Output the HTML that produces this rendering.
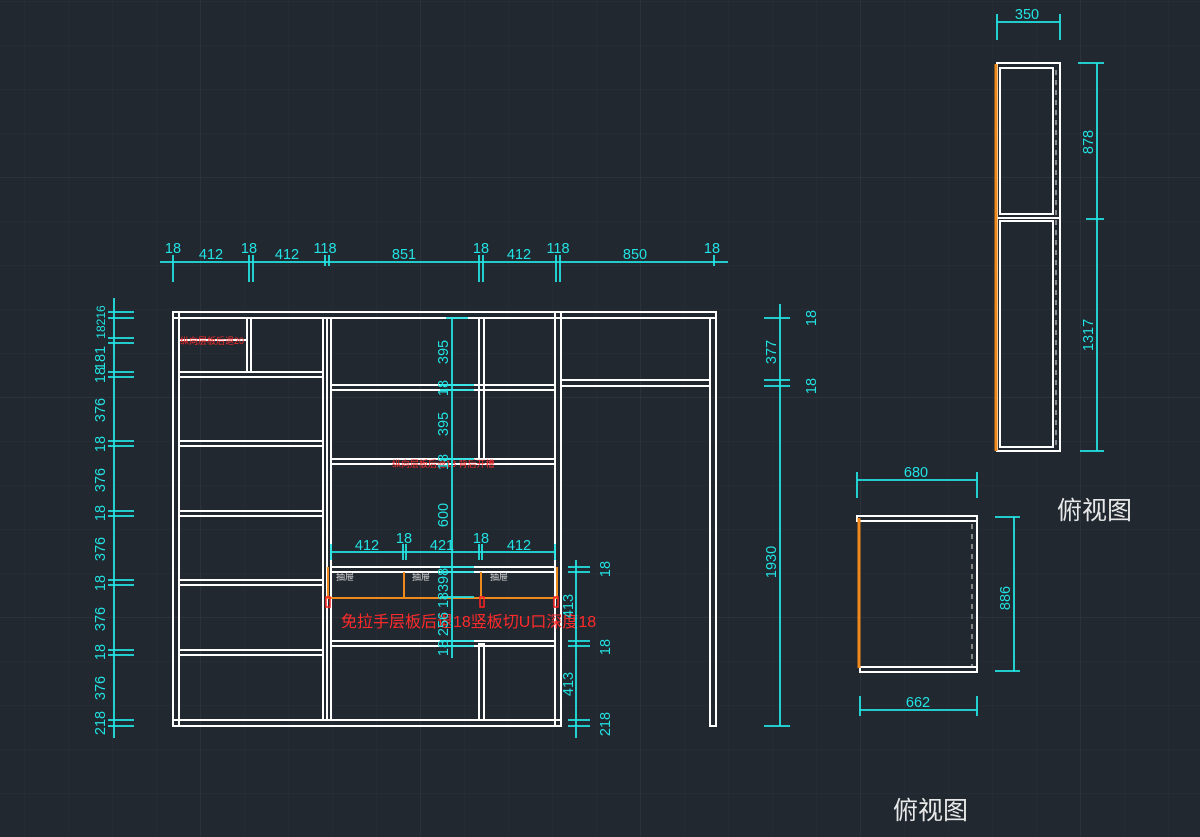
<!DOCTYPE html>
<html><head><meta charset="utf-8"><style>
html,body{margin:0;padding:0;background:#212830;}
svg{display:block}
text{font-family:"Liberation Sans","Noto Sans CJK SC",sans-serif;}
.c{fill:#22e3e3;font-size:14.5px;}
</style></head><body>
<svg width="1200" height="837" viewBox="0 0 1200 837" xmlns="http://www.w3.org/2000/svg">
<defs>
<pattern id="g" width="44" height="44" patternUnits="userSpaceOnUse" x="24" y="1">
<path d="M0 0H44M0 0V44" stroke="#2a313b" stroke-width="1" fill="none"/>
</pattern>
<pattern id="G" width="220" height="220" patternUnits="userSpaceOnUse" x="200" y="177">
<path d="M0 0H220M0 0V220" stroke="#353d48" stroke-width="1" fill="none"/>
</pattern>
</defs>
<rect width="1200" height="837" fill="#212830"/>
<rect width="1200" height="837" fill="url(#g)"/>
<rect width="1200" height="837" fill="url(#G)"/>

<!-- cabinet panels -->
<g fill="none" stroke="#ffffff" stroke-width="2">
<rect x="173" y="312" width="543" height="6"/>
<rect x="173" y="312" width="6" height="414"/>
<rect x="173" y="720" width="388" height="6"/>
<rect x="323" y="318" width="4" height="402"/>
<rect x="327" y="318" width="4" height="402"/>
<rect x="479" y="318" width="5" height="141"/>
<rect x="479" y="644" width="5" height="76"/>
<rect x="555" y="312" width="6" height="414"/>
<rect x="710" y="318" width="6" height="408"/>
<rect x="561" y="380" width="149" height="6"/>
<rect x="247" y="318" width="4" height="54"/>
<rect x="179" y="372" width="144" height="5"/>
<rect x="179" y="441" width="144" height="5"/>
<rect x="179" y="511" width="144" height="5"/>
<rect x="179" y="580" width="144" height="5"/>
<rect x="179" y="650" width="144" height="5"/>
<rect x="331" y="385" width="224" height="5"/>
<rect x="331" y="459" width="224" height="5"/>
<rect x="331" y="567" width="224" height="5"/>
<rect x="331" y="641" width="224" height="5"/>
<line x1="179" y1="340" x2="247" y2="340"/>
</g>
<!-- drawer orange -->
<g fill="none" stroke="#f08a1c" stroke-width="2">
<polyline points="328,567 328,598 557,598 557,567"/>
<line x1="404" y1="572" x2="404" y2="597"/>
<line x1="481" y1="572" x2="481" y2="597"/>
</g>
<g fill="none" stroke="#ff2020" stroke-width="1.5">
<rect x="326" y="597" width="4" height="10"/>
<rect x="480" y="597" width="4" height="10"/>
<rect x="554" y="597" width="4" height="10"/>
</g>
<g fill="#ddd" font-size="9"><text x="336" y="580">抽屉</text><text x="412" y="580">抽屉</text><text x="490" y="580">抽屉</text></g>
<text x="180" y="344" fill="#ff2a2a" font-size="9">纵向层板后退20</text>
<text x="392" y="467" fill="#ff2a2a" font-size="9">纵向层板后退18 背后开槽</text>
<text x="341" y="627" fill="#ff2a2a" font-size="16">免拉手层板后退18竖板切U口深度18</text>

<!-- dimension lines -->
<g stroke="#22e3e3" stroke-width="1.8" fill="none">
<line x1="160" y1="262" x2="728" y2="262"/>
<path d="M173 255V282M249 255V282M253 255V282M325 255V266M329 255V266M479 255V282M483 255V282M556 255V282M560 255V282M714 255V266"/>
<line x1="114" y1="298" x2="114" y2="738"/>
<path d="M108 312H134M108 318H134M108 338H134M108 343H134M108 372H134M108 377H134M108 441H134M108 446H134M108 511H134M108 516H134M108 580H134M108 585H134M108 650H134M108 655H134M108 720H134M108 726H134"/>
<line x1="780" y1="304" x2="780" y2="726"/>
<path d="M764 318H790M764 380H790M764 386H790M764 726H790"/>
<line x1="452" y1="318" x2="452" y2="658"/>
<path d="M446 318H468M440 385H474M440 390H474M440 459H474M440 567H474M440 572H474M440 597H474M440 641H474M440 646H474"/>
<line x1="331" y1="552" x2="555" y2="552"/>
<path d="M331 544V560M403 544V560M406 544V560M479 544V560M482 544V560M555 544V560"/>
<line x1="576" y1="560" x2="576" y2="738"/>
<path d="M568 567H590M568 572H590M568 641H590M568 646H590M568 720H590M568 726H590"/>
<line x1="997" y1="22" x2="1060" y2="22"/><path d="M997 14V40M1060 14V40"/>
<line x1="1097" y1="63" x2="1097" y2="451"/><path d="M1078 63H1104M1086 219H1104M1080 451H1104"/>
<line x1="857" y1="480" x2="977" y2="480"/><path d="M857 472V498M977 472V498"/>
<line x1="1014" y1="517" x2="1014" y2="671"/><path d="M995 517H1020M995 671H1020"/>
<line x1="860" y1="710" x2="977" y2="710"/><path d="M860 696V716M977 696V716"/>
</g>

<g class="c" text-anchor="middle">
<text x="173" y="253">18</text><text x="211" y="259">412</text><text x="249" y="253">18</text>
<text x="287" y="259">412</text><text x="325" y="253">118</text><text x="404" y="259">851</text>
<text x="481" y="253">18</text><text x="519" y="259">412</text><text x="558" y="253">118</text>
<text x="635" y="259">850</text><text x="712" y="253">18</text>
<text x="367" y="550">412</text><text x="404" y="543">18</text><text x="442" y="550">421</text>
<text x="481" y="543">18</text><text x="519" y="550">412</text>
<text x="1027" y="19">350</text><text x="916" y="477">680</text><text x="918" y="707">662</text>
</g>
<g class="c" text-anchor="middle">
<text transform="translate(105,322) rotate(-90)" font-size="12">18216</text>
<text transform="translate(105,358) rotate(-90)">181</text>
<text transform="translate(105,375) rotate(-90)">18</text>
<text transform="translate(105,410) rotate(-90)">376</text>
<text transform="translate(105,444) rotate(-90)">18</text>
<text transform="translate(105,480) rotate(-90)">376</text>
<text transform="translate(105,513) rotate(-90)">18</text>
<text transform="translate(105,549) rotate(-90)">376</text>
<text transform="translate(105,583) rotate(-90)">18</text>
<text transform="translate(105,619) rotate(-90)">376</text>
<text transform="translate(105,652) rotate(-90)">18</text>
<text transform="translate(105,688) rotate(-90)">376</text>
<text transform="translate(105,723) rotate(-90)">218</text>
<text transform="translate(448,352) rotate(-90)">395</text>
<text transform="translate(448,388) rotate(-90)">18</text>
<text transform="translate(448,424) rotate(-90)">395</text>
<text transform="translate(448,462) rotate(-90)">18</text>
<text transform="translate(448,515) rotate(-90)">600</text>
<text transform="translate(448,588) rotate(-90)">18398</text>
<text transform="translate(448,624) rotate(-90)">256</text>
<text transform="translate(448,648) rotate(-90)">18</text>
<text transform="translate(573,606) rotate(-90)">413</text>
<text transform="translate(573,684) rotate(-90)">413</text>
<text transform="translate(610,569) rotate(-90)">18</text>
<text transform="translate(610,647) rotate(-90)">18</text>
<text transform="translate(610,724) rotate(-90)">218</text>
<text transform="translate(776,352) rotate(-90)">377</text>
<text transform="translate(776,562) rotate(-90)">1930</text>
<text transform="translate(816,318) rotate(-90)">18</text>
<text transform="translate(816,386) rotate(-90)">18</text>
<text transform="translate(1093,142) rotate(-90)">878</text>
<text transform="translate(1093,335) rotate(-90)">1317</text>
<text transform="translate(1010,598) rotate(-90)">886</text>
</g>

<g fill="none" stroke="#ffffff" stroke-width="2">
<rect x="997" y="63" width="63" height="388"/>
<rect x="1000" y="68" width="53" height="146"/>
<rect x="1000" y="221" width="53" height="226"/>
<line x1="997" y1="218" x2="1060" y2="218"/>
<rect x="857" y="516" width="120" height="5"/>
<rect x="860" y="667" width="117" height="5"/>
<line x1="977" y1="516" x2="977" y2="672"/>
</g>
<g stroke="#888" stroke-width="2" stroke-dasharray="5 5">
<line x1="1056" y1="70" x2="1056" y2="447"/>
<line x1="972" y1="524" x2="972" y2="666"/>
</g>
<line x1="996" y1="64" x2="996" y2="451" stroke="#f08a1c" stroke-width="3"/>
<line x1="859" y1="518" x2="859" y2="668" stroke="#f08a1c" stroke-width="3"/>

<text x="1057" y="519" fill="#e8e8e8" font-size="25">俯视图</text>
<text x="893" y="819" fill="#e8e8e8" font-size="25">俯视图</text>
</svg>
</body></html>
